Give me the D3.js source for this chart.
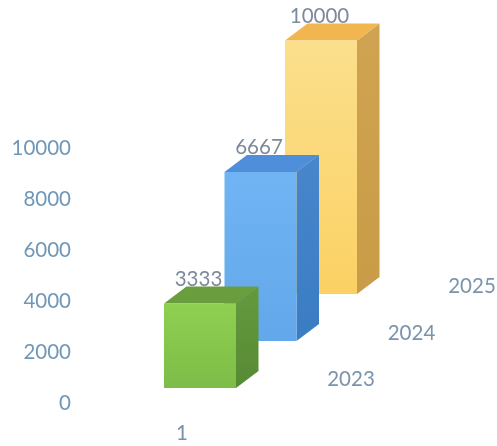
<!DOCTYPE html>
<html>
<head>
<meta charset="utf-8">
<script src="https://cdn.jsdelivr.net/npm/d3@7"></script>
<style>
html,body{margin:0;padding:0;background:#fff;overflow:hidden}
svg{display:block}
text{font-family:Lato,"Open Sans",sans-serif}
</style>
</head>
<body>
<svg id="chart" width="497" height="446"></svg>
<script>
const seriesNames = ["2023","2024","2025"];
const seriesValues = [3333,6667,10000];
const categoryLabels = ["1"];
const yTicks = [0,2000,4000,6000,8000,10000];
const frontColors = [["#8fd052","#7dbc47"],["#70b4f4","#62a8ea"],["#fbdf8c","#fbd164"]];
const topColors = ["#6a9d3e","#4f8ed8","#f1b64f"];
const sideColors = [["#659a3e","#578a35"],["#4886cc","#3a7cc2"],["#cfa351","#c99c48"]];

const svg = d3.select("#chart");
const defs = svg.append("defs");
defs.append("filter").attr("id","soft").append("feGaussianBlur").attr("stdDeviation",0.4);
const root = svg.append("g").attr("filter","url(#soft)");

const barW = 72, depthX = 22.5, depthY = 17;

const heightScale = d3.scaleLinear().domain([0,10000]).range([0,253.5]);
const axisY = d3.scaleLinear().domain([0,10000]).range([403,148]);
const frontX = d3.scalePoint().domain(seriesNames).range([164,285]);
const baseY = d3.scalePoint().domain(seriesNames).range([388,294]);
const nameX = d3.scalePoint().domain(seriesNames).range([351,472]);
const nameY = d3.scalePoint().domain(seriesNames).range([379,286]);

seriesNames.forEach((s,i)=>{
  const f = defs.append("linearGradient").attr("id","front"+i).attr("x1",0).attr("y1",0).attr("x2",0).attr("y2",1);
  f.append("stop").attr("offset","0%").attr("stop-color",frontColors[i][0]);
  f.append("stop").attr("offset","100%").attr("stop-color",frontColors[i][1]);
  const g = defs.append("linearGradient").attr("id","side"+i).attr("x1",0).attr("y1",0).attr("x2",0).attr("y2",1);
  g.append("stop").attr("offset","0%").attr("stop-color",sideColors[i][0]);
  g.append("stop").attr("offset","100%").attr("stop-color",sideColors[i][1]);
});

const line = d3.line();
const order = d3.range(seriesNames.length).reverse();

const bars = root.append("g").attr("class","bars")
  .selectAll("g").data(order).join("g");

bars.append("path").attr("fill",i=>`url(#side${i})`).attr("d",i=>{
  const s=seriesNames[i], x=frontX(s)+barW, b=baseY(s), t=b-heightScale(seriesValues[i]);
  return line([[x,t],[x+depthX,t-depthY],[x+depthX,b-depthY],[x,b]])+"Z";
});
bars.append("path").attr("fill",i=>topColors[i]).attr("d",i=>{
  const s=seriesNames[i], x=frontX(s), t=baseY(s)-heightScale(seriesValues[i]);
  return line([[x,t],[x+depthX,t-depthY],[x+barW+depthX,t-depthY],[x+barW,t]])+"Z";
});
bars.append("rect").attr("fill",i=>`url(#front${i})`)
  .attr("x",i=>frontX(seriesNames[i]))
  .attr("y",i=>baseY(seriesNames[i])-heightScale(seriesValues[i]))
  .attr("width",barW)
  .attr("height",i=>heightScale(seriesValues[i]));

// value labels
root.append("g").selectAll("text").data(d3.range(seriesNames.length)).join("text")
  .attr("x",i=>frontX(seriesNames[i])+34.5)
  .attr("y",i=>baseY(seriesNames[i])-heightScale(seriesValues[i])-18)
  .attr("text-anchor","middle")
  .attr("font-size",20.5)
  .attr("fill","#7c8a9c")
  .text(i=>seriesValues[i]);

// value axis labels
root.append("g").selectAll("text").data(yTicks).join("text")
  .attr("x",71)
  .attr("y",d=>axisY(d)+7)
  .attr("text-anchor","end")
  .attr("font-size",20.5)
  .attr("fill","#6f97b8")
  .text(d=>d);

// depth axis labels
root.append("g").selectAll("text").data(seriesNames).join("text")
  .attr("x",d=>nameX(d))
  .attr("y",d=>nameY(d)+7)
  .attr("text-anchor","middle")
  .attr("font-size",20.5)
  .attr("fill","#7b93ab")
  .text(d=>d);

// category label
root.append("g").selectAll("text").data(categoryLabels).join("text")
  .attr("x",182).attr("y",440)
  .attr("text-anchor","middle")
  .attr("font-size",20.5)
  .attr("fill","#7b8fa5")
  .text(d=>d);
</script>
</body>
</html>
